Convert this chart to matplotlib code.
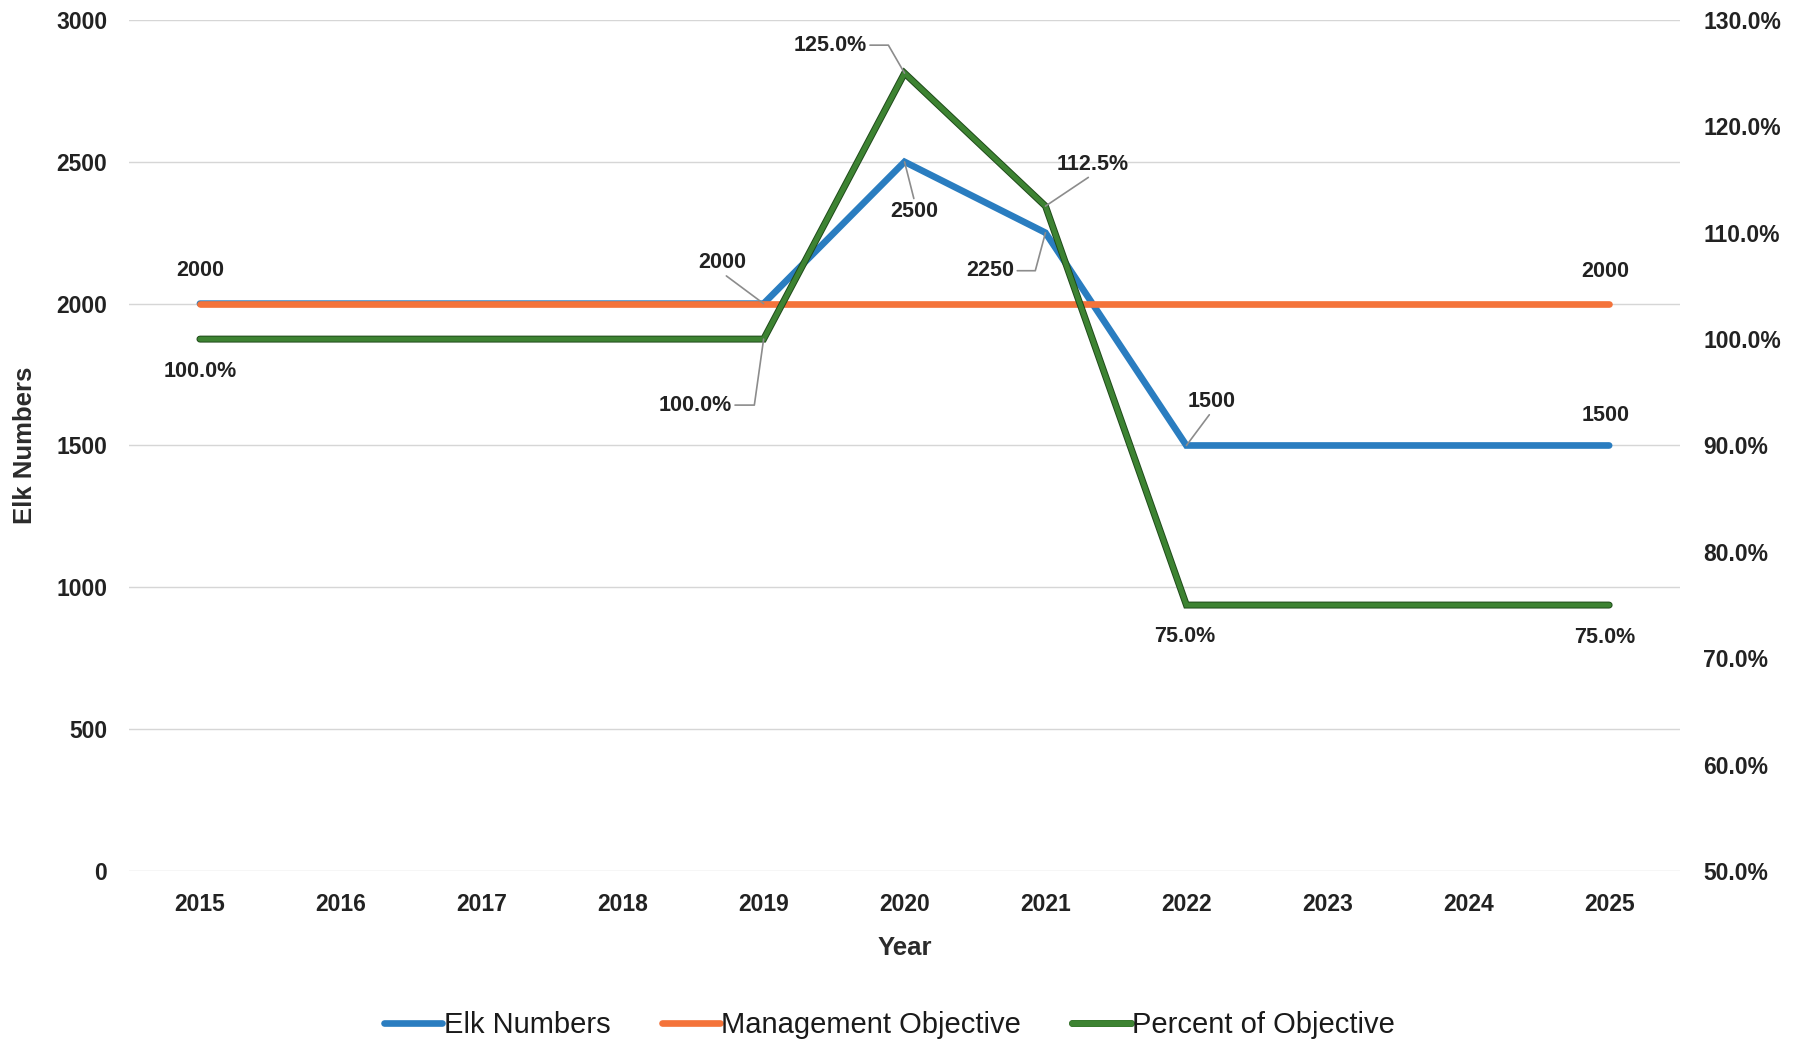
import matplotlib
matplotlib.use("Agg")
import matplotlib.pyplot as plt
import matplotlib.patheffects as pe
from matplotlib.ticker import FuncFormatter

plt.rcParams['font.family'] = ['Liberation Sans', 'DejaVu Sans']

# Data
years = [2015, 2016, 2017, 2018, 2019, 2020, 2021, 2022, 2023, 2024, 2025]
elk_numbers = [2000, 2000, 2000, 2000, 2000, 2500, 2250, 1500, 1500, 1500, 1500]
management_objective = [2000] * 11
percent_of_objective = [100.0, 100.0, 100.0, 100.0, 100.0, 125.0, 112.5, 75.0, 75.0, 75.0, 75.0]

left_ticks = [0, 500, 1000, 1500, 2000, 2500, 3000]
right_ticks = [50, 60, 70, 80, 90, 100, 110, 120, 130]

BLUE = '#2a7dc0'
ORANGE = '#f4733a'
GREEN = '#3d8332'
GREEN_EDGE = '#1f4a1a'
TEXT = '#222222'
LEADER = '#8c8c8c'

fig = plt.figure(figsize=(18.08, 10.45), dpi=100)
ax = fig.add_axes([0.0716, 0.1665, 0.8574, 0.8144])
ax2 = ax.twinx()

x = list(range(len(years)))

ax.plot(x, elk_numbers, color=BLUE, lw=4.8, solid_capstyle='round',
        solid_joinstyle='miter', label='Elk Numbers', zorder=3)
ax.plot(x, management_objective, color=ORANGE, lw=4.8, solid_capstyle='round',
        label='Management Objective', zorder=4)
green_line, = ax2.plot(x, percent_of_objective, color=GREEN, lw=3.6,
                       solid_capstyle='round', solid_joinstyle='miter',
                       label='Percent of Objective', zorder=5)
green_line.set_path_effects([pe.Stroke(linewidth=5.0, foreground=GREEN_EDGE),
                             pe.Normal()])

# Axes styling
ax.set_xlim(-0.5, len(years) - 0.5)
ax.set_ylim(0, 3000)
ax2.set_ylim(50, 130)
ax.set_yticks(left_ticks)
ax2.set_yticks(right_ticks)
ax.set_xticks(x)
ax.set_xticklabels([str(y) for y in years])
ax2.yaxis.set_major_formatter(FuncFormatter(lambda v, p: f"{v:.1f}%"))

for a in (ax, ax2):
    for s in a.spines.values():
        s.set_visible(False)

ax.grid(axis='y', color='#d6d6d6', lw=1.0, zorder=0)
ax.set_axisbelow(True)
ax.tick_params(axis='both', length=0, labelsize=16.5, labelcolor=TEXT)
ax.tick_params(axis='y', pad=16)
ax.tick_params(axis='x', pad=16)
ax2.tick_params(axis='y', length=0, labelsize=16.5, labelcolor=TEXT, pad=17)
for lab in ax.get_xticklabels() + ax.get_yticklabels() + ax2.get_yticklabels():
    lab.set_fontweight('bold')

ax.set_xlabel('Year', fontsize=18.5, fontweight='bold', color='#2b2b2b')
ax.set_ylabel('Elk Numbers', fontsize=18.5, fontweight='bold', color='#2b2b2b')
ax.xaxis.label.set_va('center')
ax.yaxis.label.set_va('center')
ax.xaxis.set_label_coords(0.5, -0.0905)
ax.yaxis.set_label_coords(-0.0674, 0.5)

LABEL_KW = dict(fontsize=15.5, fontweight='bold', color=TEXT,
                ha='center', va='center', textcoords='offset pixels', zorder=6)


def value_label(axis, i, values, fmt, dx, dy, leader=None):
    """Annotate one point; leader is (relpos, connectionstyle) or None."""
    v = values[i]
    kw = dict(LABEL_KW)
    if leader is not None:
        relpos, conn = leader
        kw['arrowprops'] = dict(arrowstyle='-', color=LEADER, lw=1.2,
                                shrinkA=0, shrinkB=0, relpos=relpos,
                                connectionstyle=conn)
    axis.annotate(fmt(v), xy=(i, v), xytext=(dx, dy), **kw)


num = lambda v: f"{v:.0f}"
pct = lambda v: f"{v:.1f}%"

# Management objective labels
value_label(ax, 0, management_objective, num, 0, 33)
value_label(ax, 10, management_objective, num, -4, 32)

# Elk number labels
value_label(ax, 4, elk_numbers, num, -41, 41, ((0.5, 0.0), 'arc3'))
value_label(ax, 5, elk_numbers, num, 10, -50, ((0.5, 1.0), 'arc3'))
value_label(ax, 6, elk_numbers, num, -55, -38,
            ((1.0, 0.5), 'angle,angleA=0,angleB=75,rad=0'))
value_label(ax, 7, elk_numbers, num, 25, 44, ((0.5, 0.0), 'arc3'))
value_label(ax, 10, elk_numbers, num, -4, 30)

# Percent of objective labels
value_label(ax2, 0, percent_of_objective, pct, 0, -32)
value_label(ax2, 4, percent_of_objective, pct, -68, -66,
            ((1.0, 0.5), 'angle,angleA=0,angleB=82,rad=0'))
value_label(ax2, 5, percent_of_objective, pct, -74, 28,
            ((1.0, 0.5), 'angle,angleA=0,angleB=120,rad=0'))
value_label(ax2, 6, percent_of_objective, pct, 47, 42, ((0.5, 0.0), 'arc3'))
value_label(ax2, 7, percent_of_objective, pct, -2, -31)
value_label(ax2, 10, percent_of_objective, pct, -4, -32)

# Legend along the bottom
handles = [ax.get_lines()[0], ax.get_lines()[1], green_line]
leg = fig.legend(handles, [h.get_label() for h in handles], loc='center',
                 bbox_to_anchor=(0.492, 0.019), ncol=3, frameon=False,
                 fontsize=21, handlelength=2.0, handletextpad=0.05,
                 columnspacing=1.75, borderaxespad=0)
for t in leg.get_texts():
    t.set_color('#1a1a1a')
for h in leg.legend_handles:
    h.set_linewidth(4.8)
    h.set_solid_capstyle('round')

fig.savefig('out.png', dpi=100, facecolor='white')
